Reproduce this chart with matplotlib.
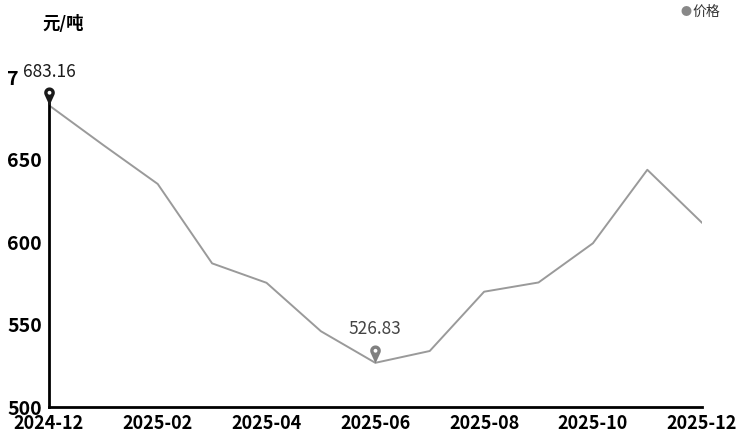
import numpy as np
import matplotlib.pyplot as plt
from matplotlib.path import Path

# price data, 元/吨
months = ['2024-12', '2025-01', '2025-02', '2025-03', '2025-04', '2025-05', '2025-06',
          '2025-07', '2025-08', '2025-09', '2025-10', '2025-11', '2025-12']
prices = [683.16, 659.0, 635.4, 587.2, 575.4, 546.0, 526.83,
          534.0, 570.0, 575.6, 599.4, 644.0, 612.0]
yticks = [500, 550, 600, 650, 700]

plt.rcParams['font.family'] = ['Noto Sans CJK SC', 'DejaVu Sans']


def make_pin(r=0.5, h=1.2, hole=0.18):
    """teardrop with tip at the origin and a hole in the head"""
    a = np.arcsin(r / h)
    t = np.linspace(-a, np.pi + a, 40)
    outer = np.column_stack([r * np.cos(t), h + r * np.sin(t)])
    outer = np.vstack([outer, [[0, 0], outer[0]]])
    t2 = np.linspace(2 * np.pi, 0, 30)
    inner = np.column_stack([hole * np.cos(t2), h + hole * np.sin(t2)])
    verts = np.vstack([outer, inner])
    codes = ([Path.MOVETO] + [Path.LINETO] * (len(outer) - 2) + [Path.CLOSEPOLY]
             + [Path.MOVETO] + [Path.LINETO] * (len(inner) - 2) + [Path.CLOSEPOLY])
    return Path(verts, codes)


pin = make_pin()

fig = plt.figure(figsize=(7.41, 4.37), dpi=100)
ax = fig.add_axes([0.066, 0.0686, 0.881, 0.754])

x = np.arange(len(months))
ax.plot(x, prices, color='#9a9a9a', lw=1.4, zorder=2)

imax = int(np.argmax(prices))
imin = int(np.argmin(prices))
for i, col, tcol in [(imax, '#1a1a1a', '#1a1a1a'), (imin, '#808080', '#444444')]:
    ax.plot(x[i], prices[i], marker=pin, ms=26, color=col, mew=0,
            clip_on=False, zorder=5)
    ax.annotate('%.2f' % prices[i], (x[i], prices[i]), xytext=(0, 24),
                textcoords='offset points', ha='center', va='center',
                fontsize=12.5, color=tcol, zorder=10, annotation_clip=False,
                bbox=dict(boxstyle='square,pad=0.25', fc='white', ec='none'))

ax.set_xlim(0, len(months) - 1)
ax.set_ylim(500, 700)
ax.set_yticks(yticks)
ax.set_xticks(x[::2])
ax.set_xticklabels(months[::2])
for s in ['top', 'right']:
    ax.spines[s].set_visible(False)
for s in ['left', 'bottom']:
    ax.spines[s].set_linewidth(2)
    ax.spines[s].set_color('black')
ax.spines['left'].set_bounds(500, 688)
ax.tick_params(axis='y', length=0, pad=5)
ax.tick_params(axis='x', length=0, pad=5)
for lab in ax.get_yticklabels():
    lab.set_fontsize(14)
    lab.set_fontweight('bold')
for lab in ax.get_xticklabels():
    lab.set_fontsize(13)
    lab.set_fontweight('bold')

fig.text(0.057, 0.946, '元/吨', fontsize=12.5, fontweight='bold', va='center')
fig.text(0.926, 0.973, '●', fontsize=8, color='#888888', ha='center', va='center')
fig.text(0.935, 0.973, '价格', fontsize=10, color='#333333', va='center')

fig.savefig('out.png', dpi=100)
